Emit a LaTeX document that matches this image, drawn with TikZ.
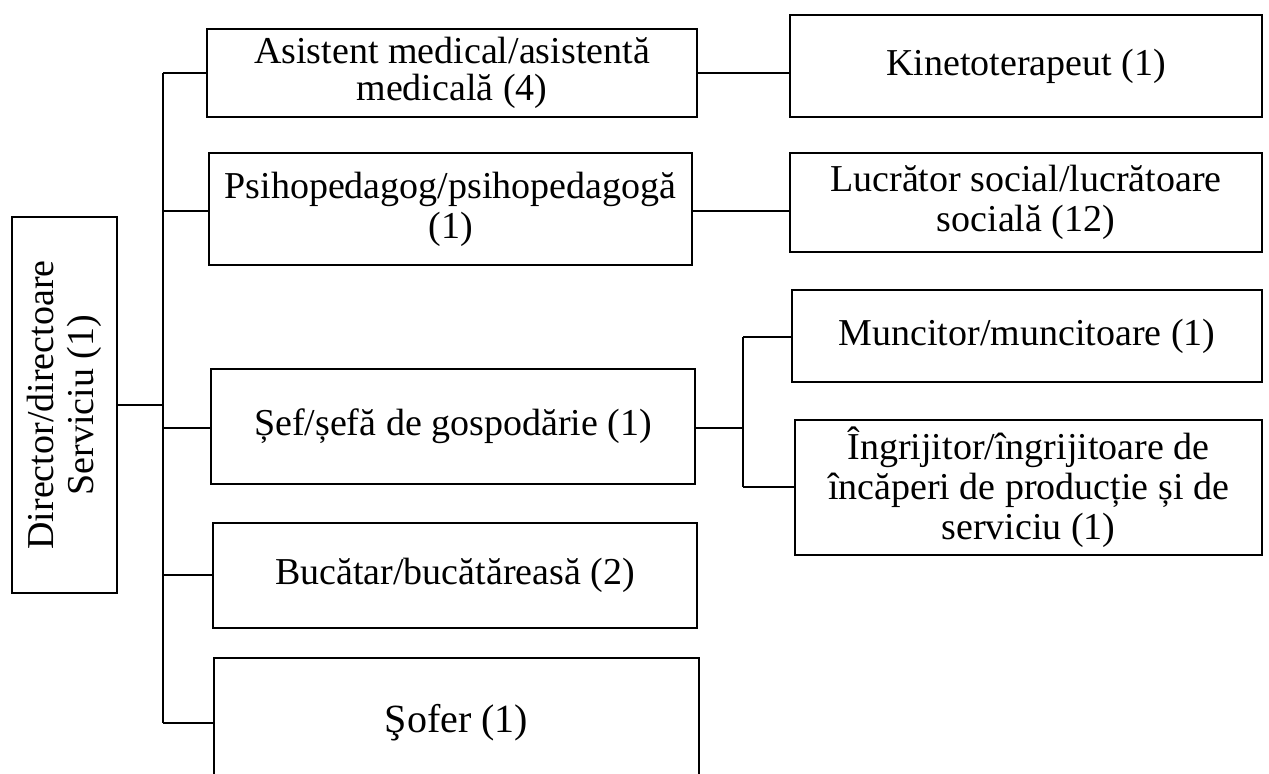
\documentclass[tikz,border=0pt]{standalone}
\usepackage{fontspec}
\setmainfont{Liberation Serif}
\begin{document}
\begin{tikzpicture}[x=0.5pt,y=-0.5pt,
  box/.style={draw,line width=1.4pt,inner sep=0pt,align=center,
    font=\fontsize{19pt}{20pt}\selectfont},
  link/.style={line width=1.4pt}]
\path[use as bounding box,clip] (0,0) rectangle (1269,773);
\fill[white] (0,0) rectangle (1269,773);
% root
\node[box,rotate=90,minimum width=188pt,minimum height=52.5pt] (dir) at (64.5,405)
  {Director/directoare\\Serviciu (1)};
% level 1
\node[box,minimum width=245pt,minimum height=44pt,font=\fontsize{19pt}{18.2pt}\selectfont] (asis) at (452,73)
  {Asistent medical/asistentă\\medicală (4)};
\node[box,minimum width=241.5pt,minimum height=56pt] (psih) at (450.5,209)
  {Psihopedagog/psihopedagogă\\(1)};
\node[box,minimum width=242pt,minimum height=57.5pt] (sef) at (453,426.5)
  {Șef/șefă de gospodărie (1)};
\node[box,minimum width=242pt,minimum height=52.5pt] (buc) at (455,575.5)
  {Bucătar/bucătăreasă (2)};
\node[box,minimum width=242.5pt,minimum height=65pt,font=\fontsize{20pt}{21pt}\selectfont] (sof) at (456.5,723)
  {Şofer (1)};
% level 2
\node[box,minimum width=236pt,minimum height=51pt] (kin) at (1026,66)
  {Kinetoterapeut (1)};
\node[box,minimum width=236pt,minimum height=49.5pt] (luc) at (1026,202.5)
  {Lucrător social/lucrătoare\\socială (12)};
\node[box,minimum width=235pt,minimum height=46pt] (mun) at (1027,336)
  {Muncitor/muncitoare (1)};
\node[box,minimum width=233.5pt,minimum height=67.5pt] (ing) at (1028.5,487.5)
  {Îngrijitor/îngrijitoare de\\încăperi de producție și de\\serviciu (1)};
% trunk
\coordinate (tr) at (163,405);
\coordinate (tt) at (163,73);
\coordinate (tb) at (163,723);
\draw[link] (dir.south) -- (tr);
\draw[link] (tt) -- (tb);
\draw[link] (tt) -- (asis.west |- tt);
\draw[link] (163,211) -- (psih.west |- 0,211);
\draw[link] (163,428) -- (sef.west |- 0,428);
\draw[link] (163,575) -- (buc.west |- 0,575);
\draw[link] (tb) -- (sof.west |- tb);
% right links
\draw[link] (asis.east |- 0,73) -- (kin.west |- 0,73);
\draw[link] (psih.east |- 0,211) -- (luc.west |- 0,211);
\coordinate (sx) at (743,428);
\coordinate (su) at (743,337);
\coordinate (sd) at (743,487);
\draw[link] (sef.east |- sx) -- (sx);
\draw[link] (su) -- (sd);
\draw[link] (su) -- (mun.west |- su);
\draw[link] (sd) -- (ing.west |- sd);
\end{tikzpicture}
\end{document}
